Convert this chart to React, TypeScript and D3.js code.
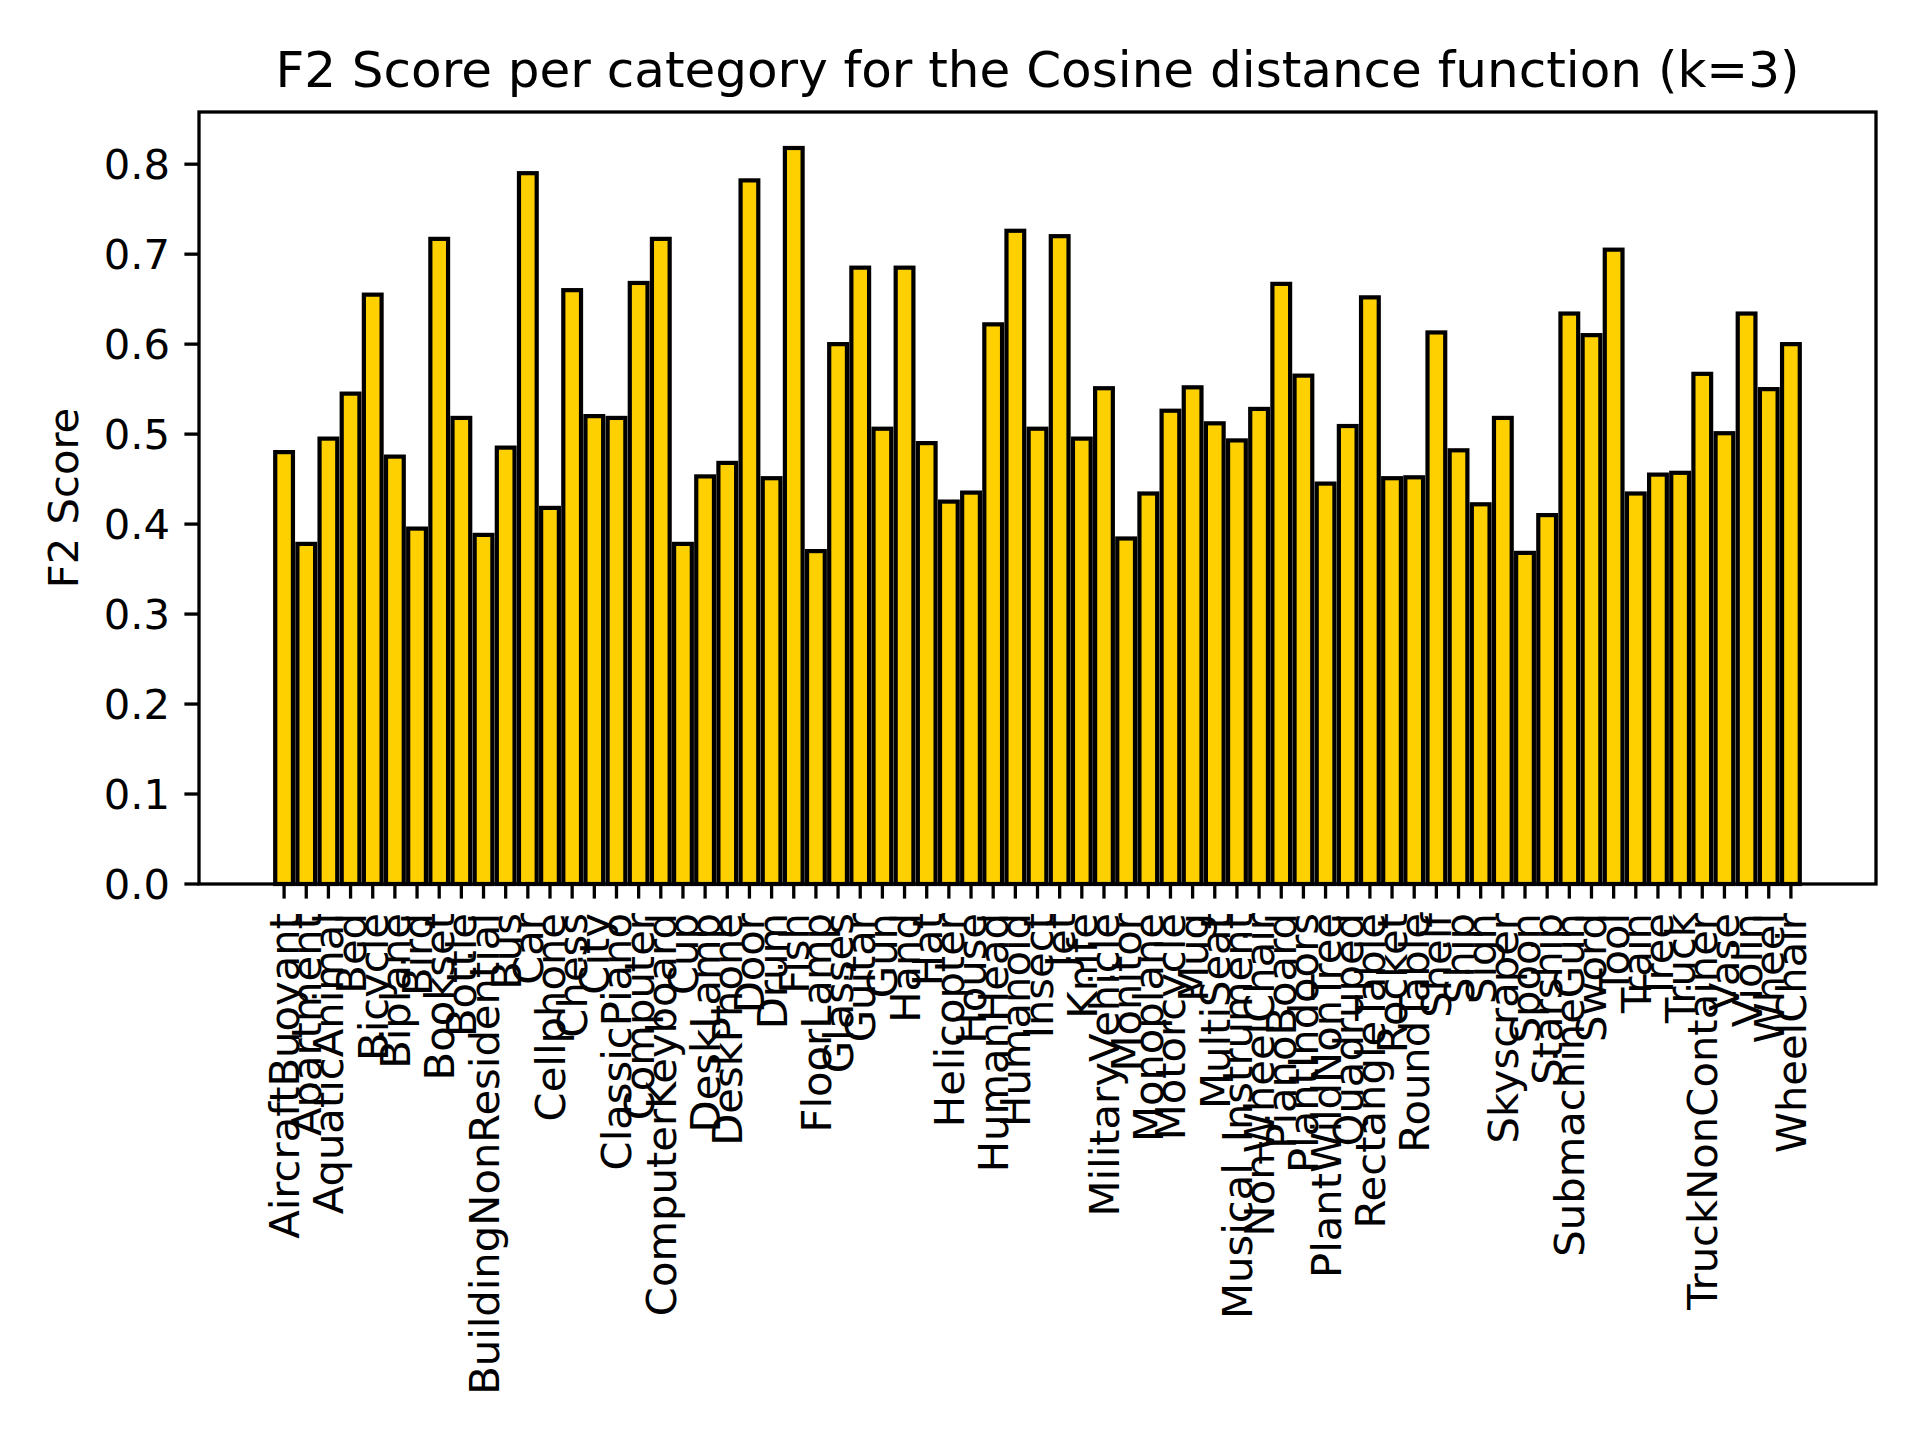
import React, { useEffect, useRef } from "react";
import * as d3 from "d3";

const categories = [
  "AircraftBuoyant", "Apartment", "AquaticAnimal", "Bed", "Bicycle", "Biplane", "Bird", "Bookset",
  "Bottle", "BuildingNonResidential", "Bus", "Car", "Cellphone", "Chess", "City", "ClassicPiano",
  "Computer", "ComputerKeyboard", "Cup", "DeskLamp", "DeskPhone", "Door", "Drum", "Fish",
  "FloorLamp", "Glasses", "Guitar", "Gun", "Hand", "Hat", "Helicopter", "House", "HumanHead",
  "Humanoid", "Insect", "Jet", "Knife", "MilitaryVehicle", "Monitor", "Monoplane", "Motorcycle",
  "Mug", "MultiSeat", "Musical_Instrument", "NonWheelChair", "PianoBoard", "PlantIndoors",
  "PlantWildNonTree", "Quadruped", "RectangleTable", "Rocket", "RoundTable", "Shelf", "Ship",
  "Sign", "Skyscraper", "Spoon", "Starship", "SubmachineGun", "Sword", "Tool", "Train", "Tree",
  "Truck", "TruckNonContainer", "Vase", "Violin", "Wheel", "WheelChair",
];

const f2Scores = [
  0.48, 0.378, 0.495, 0.545, 0.655, 0.475, 0.395, 0.717, 0.518, 0.388,
  0.485, 0.79, 0.418, 0.66, 0.52, 0.518, 0.668, 0.717, 0.378, 0.453,
  0.468, 0.782, 0.451, 0.818, 0.37, 0.6, 0.685, 0.506, 0.685, 0.49,
  0.425, 0.435, 0.622, 0.726, 0.506, 0.72, 0.495, 0.551, 0.384, 0.434,
  0.526, 0.552, 0.512, 0.493, 0.528, 0.667, 0.565, 0.445, 0.509, 0.652,
  0.451, 0.452, 0.613, 0.482, 0.422, 0.518, 0.368, 0.41, 0.634, 0.61,
  0.705, 0.434, 0.455, 0.457, 0.567, 0.501, 0.634, 0.55, 0.6,
];

const yTicks = [0, 0.1, 0.2, 0.3, 0.4, 0.5, 0.6, 0.7, 0.8];

const App: React.FC = () => {
  const svgRef = useRef<SVGSVGElement | null>(null);

  useEffect(() => {
    const svg = d3.select(svgRef.current);
    svg.selectAll("*").remove();

    const left = 199, right = 1876, top = 112, bottom = 884;
    const font = "DejaVu Sans, sans-serif";
    const n = categories.length;
    const span = n - 1 + 0.8;
    const pad = span * 0.05;

    const x = d3.scaleLinear().domain([-0.4 - pad, n - 1 + 0.4 + pad]).range([left, right]);
    const y = d3.scaleLinear().domain([0, 0.858]).range([bottom, top]);
    const bw = x(0.8) - x(0);

    svg.append("rect").attr("width", 1920).attr("height", 1440).attr("fill", "white");

    // bars
    svg.append("g")
      .selectAll("rect")
      .data(f2Scores)
      .enter()
      .append("rect")
      .attr("x", (_, i) => x(i) - bw / 2)
      .attr("y", (d) => y(d))
      .attr("width", bw)
      .attr("height", (d) => bottom - y(d))
      .attr("fill", "#ffd000")
      .attr("stroke", "black")
      .attr("stroke-width", 4.2);

    // spines
    svg.append("rect")
      .attr("x", left).attr("y", top)
      .attr("width", right - left).attr("height", bottom - top)
      .attr("fill", "none").attr("stroke", "black").attr("stroke-width", 3.3);

    // y axis
    const yAxis = svg.append("g").attr("font-family", font).attr("font-size", 41.7);
    yTicks.forEach((t) => {
      yAxis.append("line")
        .attr("x1", left - 14.6).attr("x2", left)
        .attr("y1", y(t)).attr("y2", y(t))
        .attr("stroke", "black").attr("stroke-width", 3.3);
      yAxis.append("text")
        .attr("x", left - 29).attr("y", y(t))
        .attr("dy", "0.36em")
        .attr("text-anchor", "end")
        .text(t.toFixed(1));
    });

    // x axis
    const xAxis = svg.append("g").attr("font-family", font).attr("font-size", 41.7);
    categories.forEach((c, i) => {
      xAxis.append("line")
        .attr("x1", x(i)).attr("x2", x(i))
        .attr("y1", bottom).attr("y2", bottom + 14.6)
        .attr("stroke", "black").attr("stroke-width", 3.3);
      xAxis.append("text")
        .attr("transform", `translate(${x(i)},${bottom + 29}) rotate(-90)`)
        .attr("dy", "0.36em")
        .attr("text-anchor", "end")
        .text(c);
    });

    // y label
    svg.append("text")
      .attr("transform", `translate(78,${(top + bottom) / 2}) rotate(-90)`)
      .attr("text-anchor", "middle")
      .attr("font-family", font)
      .attr("font-size", 41.7)
      .text("F2 Score");

    // title
    svg.append("text")
      .attr("x", (left + right) / 2)
      .attr("y", top - 25)
      .attr("text-anchor", "middle")
      .attr("font-family", font)
      .attr("font-size", 50)
      .text("F2 Score per category for the Cosine distance function (k=3)");
  }, []);

  return (
    <svg
      ref={svgRef}
      width={1920}
      height={1440}
      style={{ position: "absolute", left: 0, top: 0 }}
    ></svg>
  );
};

export default App;
